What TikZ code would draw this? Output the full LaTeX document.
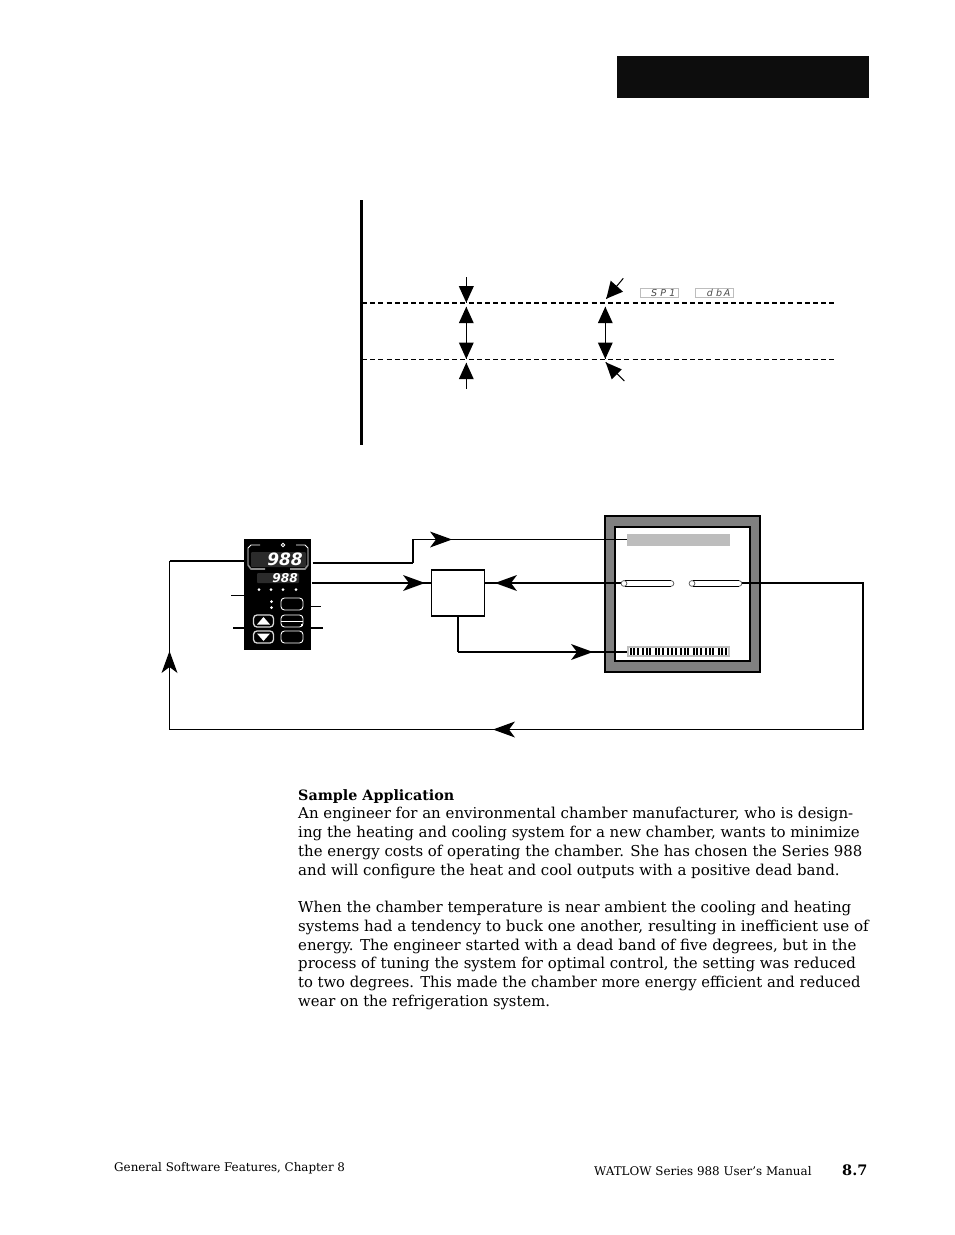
\documentclass[tikz,border=0pt]{standalone}
\usepackage{fontspec}
\setmainfont{DejaVu Serif}
\newfontfamily\dispf{DejaVu Sans}
\definecolor{chamb}{gray}{0.5}
\definecolor{lgray}{gray}{0.74}
\definecolor{panel}{gray}{0.17}
\tikzset{
 x=1pt,y=-1pt,
 body/.style={anchor=base west,inner sep=0pt,font=\fontsize{15}{17}\selectfont},
 headb/.style={anchor=base west,inner sep=0pt,font=\fontsize{14.3}{17}\selectfont\bfseries},
 foot/.style={anchor=base west,inner sep=0pt,font=\fontsize{11.9}{14}\selectfont},
 wire/.style={draw=black,line width=1.2pt},
 wiret/.style={draw=black,line width=2pt},
 axisline/.style={draw=black,line width=3pt},
 dashA/.style={draw=black,line width=1.8pt,dash pattern=on 5pt off 3.2pt},
 dashB/.style={draw=black,line width=1pt,dash pattern=on 5pt off 3.2pt},
 disp/.style={fill=panel,draw=none,rounded corners=1pt,inner sep=0pt,outer sep=0pt},
 lcd/.style={draw=lgray,line width=.7pt,minimum width=38pt,minimum height=9pt,inner sep=0pt,outer sep=0pt},
 lcdt/.style={inner sep=0pt,anchor=east,font=\dispf\itshape\fontsize{9.5}{9.5}\selectfont,text=black!70},
 key/.style={draw=white,line width=.9pt,rounded corners=3.5pt,fill=black,minimum width=22pt,minimum height=12pt,inner sep=0pt,outer sep=0pt},
 keyb/.style={key,draw=white!85!black,line width=1.3pt,minimum width=20pt},
 dot/.style={circle,fill=white,inner sep=0pt,minimum size=3pt},
 box/.style={inner sep=0pt,outer sep=0pt,anchor=north west},
 tubeend/.style={draw=black!60,fill=white,line width=.8pt},
}
\newcommand{\barb}[2]{\fill[black,shift={(#1)},rotate=#2] (0,0) -- (-22,-8) -- (-16,0) -- (-22,8) -- cycle;}
\newcommand{\bigtri}[2]{\fill[black,shift={(#1)},rotate=#2] (0,0) -- (-16.5,-7.5) -- (-16.5,7.5) -- cycle;}
\begin{document}
\begin{tikzpicture}
\useasboundingbox (0,0) rectangle (954,1235);
\fill[white] (0,0) rectangle (954,1235);
\node[box,fill=black!95,minimum width=252pt,minimum height=42pt] (band) at (617,56) {};

% ---- dead band graph
\coordinate (axT) at (361,200); \coordinate (axB) at (361,444.5);
\draw[axisline] (axT) -- (axB);
\coordinate (sL) at (362,303); \coordinate (sR) at (834,303);
\coordinate (dL) at (362,359.5); \coordinate (dR) at (834,359.5);
\draw[dashA] (sL) -- (sR);
\draw[dashB] (dL) -- (dR);
\coordinate (a1) at (466.3,277); \coordinate (a2) at (466.3,302.7);
\coordinate (a3) at (466.3,306.7); \coordinate (a4) at (466.3,359);
\coordinate (a5) at (466.3,362.7); \coordinate (a6) at (466.3,388.7);
\draw[wire,line width=1pt] (a1) -- (a2); \draw[wire,line width=1pt] (a3) -- (a4); \draw[wire,line width=1pt] (a5) -- (a6);
\bigtri{a2}{-90}\bigtri{a3}{90}\bigtri{a4}{-90}\bigtri{a5}{90}
\coordinate (b3) at (605.3,306.7); \coordinate (b4) at (605.3,359);
\draw[wire,line width=1pt] (b3) -- (b4);
\bigtri{b3}{90}\bigtri{b4}{-90}
\coordinate (c1) at (623.3,278.3); \coordinate (c2) at (606.3,298.7);
\draw[wire,line width=1pt] (c1) -- (c2);
\fill[black] (c2) -- (610.7,280.7) -- (623,291.7) -- cycle;
\coordinate (e1) at (624.3,381); \coordinate (e2) at (605.7,362.3);
\draw[wire,line width=1pt] (e1) -- (e2);
\fill[black] (e2) -- (621.7,369.3) -- (611.7,379.3) -- cycle;
\node[lcd] (sp) at (659,293.2) {};
\node[lcdt] (spt) at (675.5,293.2) {S\,\,P\,\,1};
\node[lcd] (dba) at (714,293.2) {};
\node[lcdt] (dbat) at (730.5,293.2) {d\,\,b\,A};

% ---- controller
\node[box,fill=black,minimum width=67pt,minimum height=111pt] (ctrl) at (244,539) {};
\node[disp,minimum width=55pt,minimum height=15pt] (d1) at (278.5,559.5) {};
\node[inner sep=0pt,text=white,anchor=east,font=\dispf\bfseries\itshape\fontsize{17}{17}\selectfont] (d1t) at (303,559.5) {988};
\node[disp,minimum width=42pt,minimum height=10pt] (d2) at (278,578) {};
\node[inner sep=0pt,text=white,anchor=east,font=\dispf\bfseries\itshape\fontsize{12.2}{12.2}\selectfont] (d2t) at (298,578) {988};
\draw[white,line width=.8pt] (260,545) -- (251,545) -- (248,548) -- (248,565);
\draw[white,line width=.8pt] (296,545) -- (305,545) -- (308,548) -- (308,565);
\draw[black!45,line width=1.6pt] (248,565) -- (251,569) -- (265,569);
\draw[black!45,line width=1.6pt] (308,565) -- (305,569) -- (290,569);
\node[circle,draw=white,line width=.8pt,minimum size=3.5pt,inner sep=0pt] (led) at (283,545) {};
\foreach \n/\x in {l1/259,l2/271,l3/283,l4/296}{\node[dot] (\n) at (\x,589.5) {};}
\node[dot] (l5) at (271.5,601.5) {};
\node[dot] (l6) at (271.5,607.5) {};
\node[key] (k1) at (292,604) {};
\node[key] (k2) at (292,621) {};
\node[key] (k3) at (292,637) {};
\draw[white,line width=.9pt] (281,621) -- (303,621);
\fill[white] (301,624) rectangle ++(2,2);
\node[keyb] (k4) at (263.5,621) {};
\node[keyb] (k5) at (263.5,637) {};
\fill[white] (257,624.5) -- (263.5,617) -- (270,624.5) -- cycle;
\fill[white] (257,633.5) -- (263.5,641) -- (270,633.5) -- cycle;
\coordinate (t1a) at (231,595.5); \coordinate (t1b) at (244,595.5);
\draw[wire,line width=1pt] (t1a) -- (t1b);
\coordinate (t2a) at (233,627.5); \coordinate (t2b) at (244,627.5);
\draw[wiret] (t2a) -- (t2b);
\coordinate (t3a) at (311,606); \coordinate (t3b) at (321,606);
\draw[wire,line width=1pt] (t3a) -- (t3b);
\coordinate (t4a) at (311,627.5); \coordinate (t4b) at (323,627.5);
\draw[wiret] (t4a) -- (t4b);

% ---- chamber
\node[box,fill=chamb,draw=black,line width=2pt,minimum width=155pt,minimum height=156pt] (ch) at (605,516) {};
\node[box,fill=white,draw=black,line width=2pt,minimum width=134.5pt,minimum height=134pt] (chi) at (615,527.3) {};
\node[box,fill=lgray,minimum width=103pt,minimum height=12pt] (heater) at (627,534) {};
\node[box,fill=lgray,minimum width=103pt,minimum height=11pt] (cooler) at (627,646) {};
\fill[white] (628.5,648) rectangle (727.5,655);
\foreach \g in {0,...,7}{
  \foreach \o in {0,3.6,7.2}{
    \fill[black] ({629.5+12.6*\g+\o},648.3) rectangle ++(2.1,6.7);
  }
}

% ---- box
\node[box,draw=black,fill=white,line width=1.2pt,minimum width=53.5pt,minimum height=46pt] (ctl) at (431.3,570) {};

% ---- connectors
\coordinate (w1) at (312.5,563);\coordinate (w2) at (413,563);\coordinate (w3) at (413,539.5);
\draw[wiret] (w1) -- (w2);
\draw[wire] (w2) -- (w3) -- (w3 -| heater.west);
\barb{452,539.5}{0}
\coordinate (w4) at (311.5,583);
\draw[wiret] (w4) -- (w4 -| ctl.west);
\barb{425,583}{0}
\coordinate (w4b) at (622,583);
\draw[wiret] (w4b -| ctl.east) -- (w4b);
\barb{495,583}{180}
\coordinate (w5) at (458,616);\coordinate (w6) at (458,652);
\draw[wiret] (w5) -- (w6);
\draw[wire] (w6) -- (w6 -| cooler.west);
\barb{593,652}{0}
% sensors
\foreach \a/\b in {624/671,692/739}{
  \draw[tubeend] (\b,580.6) arc[start angle=-90,end angle=90,radius=2.85];
  \draw[tubeend] (\a,583.45) circle[radius=2.9];
  \draw[black,line width=1.1pt] (\a+1,580.5) -- (\b,580.5);
  \draw[black,line width=1.1pt] (\a+1,586.4) -- (\b,586.4);
}
\coordinate (r0) at (741.5,583);\coordinate (r1) at (863,583);\coordinate (r2) at (863,729.5);\coordinate (r3) at (169.5,729.5);\coordinate (r4) at (169.5,561);
\draw[wiret] (r0) -- (r1) -- (r2);
\draw[wire] (r2) -- (r3) -- (r4);
\draw[wiret] (r4) -- (244,561);
\barb{493,729.5}{180}
\barb{169.5,651}{90}

% ---- text
\node[headb] (s0) at (298,800) {Sample Application};
\node[body] (s1) at (298,818.5) {An engineer for an environmental chamber manufacturer, who is design-};
\node[body] (s2) at (298,837.5) {ing the heating and cooling system for a new chamber, wants to minimize};
\node[body] (s3) at (298,856) {\scalebox{.995}[1]{the energy costs of operating the chamber. She has chosen the Series 988}};
\node[body] (s4) at (298,875) {and will configure the heat and cool outputs with a positive dead band.};
\node[body] (s5) at (298,912.5) {When the chamber temperature is near ambient the cooling and heating};
\node[body] (s6) at (298,931) {\scalebox{1.007}[1]{systems had a tendency to buck one another, resulting in inefficient use of}};
\node[body] (s7) at (298,950) {energy. The engineer started with a dead band of five degrees, but in the};
\node[body] (s8) at (298,968.5) {\scalebox{.997}[1]{process of tuning the system for optimal control, the setting was reduced}};
\node[body] (s9) at (298,987.5) {\scalebox{.983}[1]{to two degrees. This made the chamber more energy efficient and reduced}};
\node[body] (s10) at (298,1006) {\scalebox{.985}[1]{wear on the refrigeration system.}};
\node[foot] (f1) at (114,1171) {General Software Features, Chapter 8};
\node[foot] (f2) at (594,1175) {WATLOW Series 988 User's Manual};
\node[headb,font=\fontsize{14.5}{16}\selectfont\bfseries] (f3) at (842,1175) {8.7};
\end{tikzpicture}
\end{document}
